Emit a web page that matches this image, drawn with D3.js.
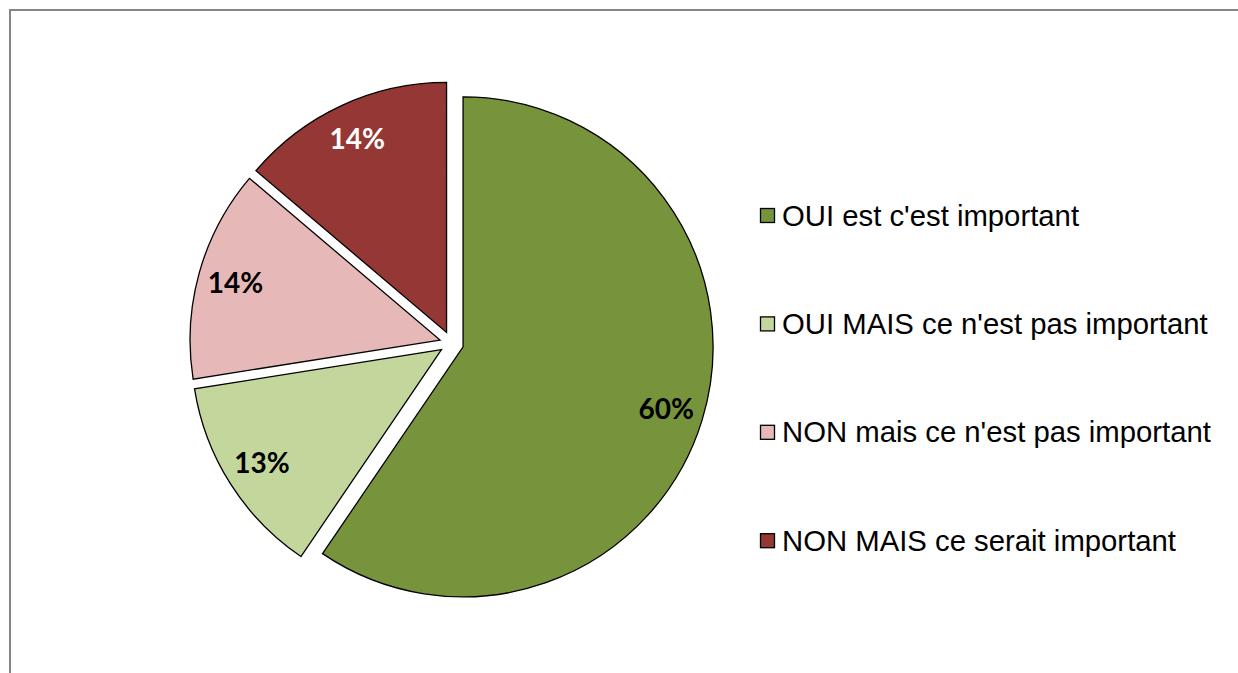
<!DOCTYPE html>
<html>
<head>
<meta charset="utf-8">
<script src="https://cdn.jsdelivr.net/npm/d3@7"></script>
<style>
  html, body { margin: 0; padding: 0; background: #fff; }
  svg { display: block; }
</style>
</head>
<body>
<svg id="chart" width="1238" height="673"></svg>
<script>
const categories = [
  "OUI est c'est important",
  "OUI MAIS ce n'est pas important",
  "NON mais ce n'est pas important",
  "NON MAIS ce serait important"
];
const values = [59.5, 13.0, 13.7, 13.8];
const colors = ["#77933C", "#C3D69B", "#E6B9B8", "#953735"];
const labelColors = ["#000000", "#000000", "#000000", "#FFFFFF"];

const svg = d3.select("#chart");

// chart border
svg.append("rect")
  .attr("x", 10).attr("y", 10)
  .attr("width", 1400).attr("height", 800)
  .attr("fill", "none")
  .attr("stroke", "#868686")
  .attr("stroke-width", 2);

const cx = 451.6, cy = 343.3, R = 250, explode = 12;

const pie = d3.pie().sort(null).value(d => d).startAngle(0).endAngle(2 * Math.PI);
const arcs = pie(values);
const arc = d3.arc().innerRadius(0).outerRadius(R);
const labelArc = d3.arc().innerRadius(R * 0.85).outerRadius(R * 0.85);

const g = svg.append("g").attr("transform", `translate(${cx},${cy})`);

const slice = g.selectAll("g.slice").data(arcs).enter().append("g")
  .attr("class", "slice")
  .attr("transform", d => {
    const m = (d.startAngle + d.endAngle) / 2;
    return `translate(${explode * Math.sin(m)},${-explode * Math.cos(m)})`;
  });

slice.append("path")
  .attr("d", arc)
  .attr("fill", (d, i) => colors[i])
  .attr("stroke", "#000")
  .attr("stroke-width", 1.3)
  .attr("stroke-linejoin", "miter");

slice.append("text")
  .attr("transform", d => `translate(${labelArc.centroid(d)})`)
  .attr("text-anchor", "middle")
  .attr("dy", "0.35em")
  .attr("font-family", "Lato, 'Open Sans', sans-serif")
  .attr("font-weight", 700)
  .attr("font-size", 28)
  .attr("fill", (d, i) => labelColors[i])
  .text(d => Math.round(d.data) + "%");

// legend
const legendX = 760, legendY0 = 215.5, legendStep = 108.4;
const leg = svg.append("g").selectAll("g").data(categories).enter().append("g")
  .attr("transform", (d, i) => `translate(${legendX},${legendY0 + i * legendStep})`);

leg.append("rect")
  .attr("x", 0.5).attr("y", -7)
  .attr("width", 14).attr("height", 14)
  .attr("fill", (d, i) => colors[i])
  .attr("stroke", "#000")
  .attr("stroke-width", 1.3);

leg.append("text")
  .attr("x", 22)
  .attr("y", 10)
  .attr("font-family", "'Liberation Sans', Arial, sans-serif")
  .attr("font-size", 29.3)
  .attr("fill", "#000")
  .text(d => d);
</script>
</body>
</html>
